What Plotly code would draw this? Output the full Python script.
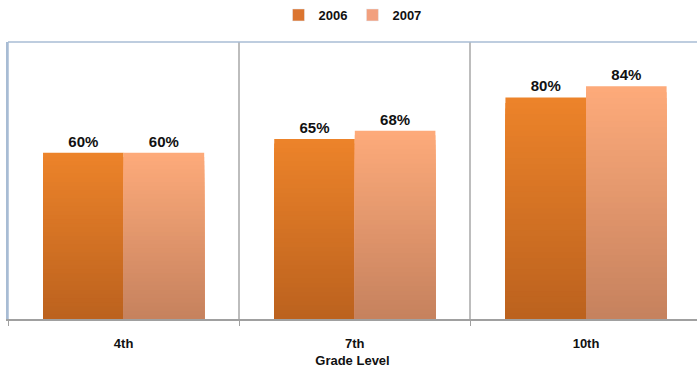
import plotly.graph_objects as go

categories = ["4th", "7th", "10th"]
series_names = ["2006", "2007"]
values_2006 = [60, 65, 80]
values_2007 = [60, 68, 84]
labels_2006 = ["60%", "65%", "80%"]
labels_2007 = ["60%", "68%", "84%"]

FONT = "Liberation Sans, Arial, sans-serif"
N = 40

# top color, bottom color, legend color
styles = {
    "2006": ((236, 131, 42), (188, 98, 30), "#DB7530"),
    "2007": ((253, 170, 122), (198, 130, 94), "#F2A07E"),
}

fig = go.Figure()

for name, vals, labs in [("2006", values_2006, labels_2006), ("2007", values_2007, labels_2007)]:
    top, bot, leg = styles[name]
    for k in range(N):
        t = k / (N - 1)
        c = tuple(round(top[i] + (bot[i] - top[i]) * t) for i in range(3))
        frac = (N - k) / N
        fig.add_trace(go.Bar(
            x=categories,
            y=[v * frac for v in vals],
            name=name,
            offsetgroup=name,
            legendgroup=name,
            showlegend=False,
            marker=dict(color="rgb(%d,%d,%d)" % c, line=dict(width=0)),
            text=labs if k == 0 else None,
            textposition="outside" if k == 0 else "none",
            textfont=dict(family=FONT, size=15, color="#111111", weight="bold"),
            cliponaxis=False,
            hoverinfo="skip",
        ))
    # legend entry
    fig.add_trace(go.Bar(
        x=[None], y=[None], name=name, legendgroup=name, offsetgroup=name,
        marker=dict(color=leg), showlegend=True, hoverinfo="skip",
    ))

fig.update_layout(
    width=697, height=371,
    margin=dict(l=8, r=0, t=42, b=52),
    paper_bgcolor="white", plot_bgcolor="white",
    barmode="group", bargap=0.303, bargroupgap=0,
    showlegend=True,
    legend=dict(
        orientation="h", x=0.5, xanchor="center", y=1, yref="container", yanchor="top",
        font=dict(family=FONT, size=13, color="#111111", weight="bold"),
        itemwidth=30, traceorder="normal",
    ),
    font=dict(family=FONT, color="#111111"),
    xaxis=dict(
        type="category", range=[-0.5, 2.48],
        tickson="boundaries", ticks="outside", ticklen=5, tickcolor="#A0A0A0",
        ticklabelstandoff=12,
        showgrid=True, gridcolor="#BDBDBD", gridwidth=1.5,
        showline=True, linecolor="#A0A0A0", linewidth=1.5,
        tickfont=dict(family=FONT, size=13, color="#111111", weight="bold"),
        title=dict(text="Grade Level", standoff=6,
                   font=dict(family=FONT, size=13, color="#111111", weight="bold")),
        fixedrange=True,
    ),
    yaxis=dict(
        range=[0, 100], showticklabels=False, ticks="", showgrid=False, zeroline=False,
        showline=True, linecolor="#A8BCD4", linewidth=1.5, fixedrange=True,
    ),
    shapes=[dict(type="line", xref="paper", yref="paper", x0=0, x1=1, y0=1, y1=1,
                 line=dict(color="#A8BCD4", width=1.5)),
            dict(type="line", xref="paper", yref="paper", x0=0, x1=0, y0=0, y1=1,
                 line=dict(color="#A8BCD4", width=1.5))],
)

fig.write_html("out.html")
